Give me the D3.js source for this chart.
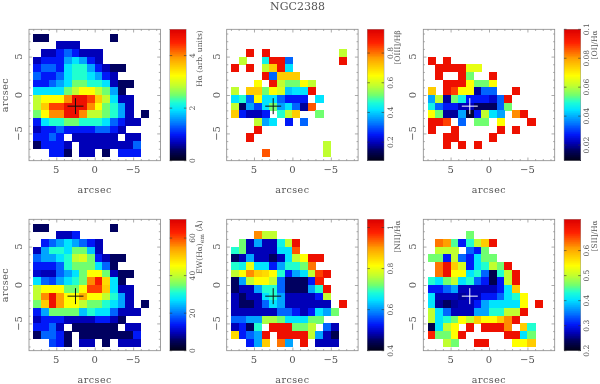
<!DOCTYPE html>
<html><head><meta charset="utf-8">
<script src="https://cdn.jsdelivr.net/npm/d3@7"></script>
<style>html,body{margin:0;background:#fff}svg{display:block;filter:blur(.35px)}text{font-family:"DejaVu Serif","Liberation Serif",serif;fill:#555}</style>
</head><body><svg id="c" width="600" height="384"></svg>
<script>
const _=null;
// Cell values are read as percent of each colour bar; rows run top to bottom, columns +8..-8 arcsec.
const halpha=[
[8,8,_,_,_,_,_,_,_,_,8,_,_,_,_,_],
[_,_,_,14,14,14,_,_,_,_,_,_,_,_,_,_],
[_,14,14,20,27,20,14,14,14,_,_,_,_,_,_,_],
[14,20,20,20,33,39,33,20,14,_,_,_,_,_,_,_],
[20,27,27,20,39,45,45,33,20,14,8,8,_,_,_,_],
[27,20,20,27,39,45,45,39,33,20,14,_,_,_,_,_],
[20,20,27,33,39,50,50,45,45,39,14,8,8,_,_,_],
[39,39,39,39,50,57,65,65,57,50,33,8,_,_,_,_],
[57,65,65,65,80,95,95,87,72,57,39,14,14,_,_,_],
[57,72,87,87,95,95,95,80,65,50,45,33,14,_,_,_],
[50,65,80,80,95,95,80,57,57,50,45,33,14,_,8,_],
[20,39,45,45,50,50,45,45,45,39,27,20,14,14,_,_],
[14,20,20,27,20,20,20,20,27,27,20,14,_,_,_,_],
[20,20,27,20,_,14,14,14,14,14,14,_,14,14,_,_],
[8,20,20,20,14,_,14,14,14,14,14,14,14,27,_,_],
[_,_,20,20,8,_,14,14,_,8,_,20,20,20,_,_]];
const o3hb=[
[_,_,_,_,_,_,_,_,_,_,_,_,_,_,_,_],
[_,_,_,_,_,_,_,_,_,_,_,_,_,_,_,_],
[_,_,95,_,95,_,_,_,_,_,_,_,_,_,57,_],
[_,57,_,_,42,95,95,27,_,_,_,_,_,_,95,_],
[95,_,95,_,57,72,95,39,_,_,_,_,_,_,_,_],
[_,_,_,_,95,27,72,72,72,_,_,_,_,_,_,_],
[_,_,_,65,_,95,57,50,50,65,57,_,_,_,_,_],
[57,_,72,72,50,65,60,36,39,39,95,_,_,_,_,_],
[39,45,27,65,39,39,27,20,20,20,_,39,_,_,_,_],
[57,8,33,24,39,50,33,39,27,12,85,_,_,_,_,_],
[72,20,14,14,20,_,45,57,72,_,_,50,_,_,_,_],
[_,_,_,57,33,39,_,20,_,27,_,_,_,_,_,_],
[_,_,_,95,_,_,_,_,_,_,_,_,_,_,_,_],
[_,_,95,_,_,_,_,_,_,_,_,_,_,_,_,_],
[_,_,_,_,_,_,_,_,_,_,_,_,57,_,_,_],
[_,_,_,_,85,_,_,_,_,_,_,_,57,_,_,_]];
const o1ha=[
[_,_,_,_,_,_,_,_,_,_,_,_,_,_,_,_],
[_,_,_,_,_,_,_,_,_,_,_,_,_,_,_,_],
[_,_,_,_,_,_,_,_,_,_,_,_,_,_,_,_],
[95,_,95,_,_,_,_,_,_,_,_,_,_,_,_,_],
[_,95,95,95,95,62,62,_,_,_,_,_,_,_,_,_],
[_,95,_,_,95,50,_,_,95,_,_,_,_,_,_,_],
[_,_,95,95,95,65,50,50,65,_,_,_,_,_,_,_],
[72,_,95,87,65,65,12,27,27,_,_,95,_,_,_,_],
[33,57,12,50,42,20,20,20,16,27,95,_,_,_,_,_],
[42,27,20,20,14,14,8,8,8,27,50,_,_,_,_,_],
[65,50,12,12,33,4,20,57,39,33,_,80,95,_,_,_],
[95,95,87,_,27,_,50,50,_,65,_,_,_,95,_,_],
[95,_,_,95,_,_,_,_,_,95,_,95,_,_,_,_],
[_,_,95,95,_,_,_,_,95,_,_,_,_,_,_,_],
[_,_,95,_,95,_,95,_,_,_,_,_,_,_,_,_],
[_,_,_,_,_,_,_,_,_,_,_,_,_,_,_,_]];
const ewha=[
[8,8,_,_,_,_,_,_,_,_,8,_,_,_,_,_],
[_,_,_,14,14,20,_,_,_,_,_,_,_,_,_,_],
[_,20,27,33,39,33,27,20,14,_,_,_,_,_,_,_],
[14,33,45,45,39,50,50,36,14,_,_,_,_,_,_,_],
[27,33,33,39,45,57,60,50,20,14,8,8,_,_,_,_],
[20,20,20,27,45,50,50,50,39,27,8,_,_,_,_,_],
[16,14,14,27,33,39,50,65,65,50,14,8,8,_,_,_],
[39,27,24,33,39,45,50,80,92,70,39,8,_,_,_,_],
[57,65,65,65,50,50,65,87,87,72,39,14,14,_,_,_],
[57,80,95,78,65,65,76,65,65,57,45,33,14,_,_,_],
[50,72,95,78,65,65,57,50,50,45,39,33,14,_,8,_],
[20,33,50,50,50,50,36,45,39,39,27,14,14,14,_,_],
[14,20,20,20,14,14,14,14,20,20,14,8,_,_,_,_],
[20,20,27,14,_,8,8,8,8,8,8,_,14,14,_,_],
[8,27,27,20,8,_,8,8,8,8,8,8,8,20,_,_],
[_,_,24,20,8,_,14,14,_,8,_,14,14,14,_,_]];
const n2ha=[
[_,_,_,_,_,_,_,_,_,_,_,_,_,_,_,_],
[_,_,_,80,57,57,_,_,_,_,_,_,_,_,_,_],
[_,50,14,33,14,14,42,57,95,_,_,_,_,_,_,_],
[45,50,14,14,14,14,39,39,85,_,_,_,_,_,_,_],
[8,14,33,14,14,8,14,39,57,65,95,95,_,_,_,_],
[45,42,62,39,39,20,33,45,45,50,82,_,_,_,_,_],
[57,65,80,72,70,65,45,20,33,39,57,87,95,_,_,_],
[8,33,57,65,65,57,27,8,8,8,20,92,_,_,_,_],
[8,14,14,33,45,45,27,8,8,8,33,45,95,_,_,_],
[14,8,14,14,39,45,33,14,14,14,14,20,57,_,_,_],
[14,8,8,14,27,39,33,14,14,14,14,14,14,_,95,_],
[14,14,14,14,14,14,27,27,20,14,20,39,33,50,_,_],
[27,27,33,33,55,55,50,39,39,39,50,50,_,_,_,_],
[14,20,8,45,_,95,95,95,50,50,57,_,27,14,_,_],
[70,20,27,33,95,_,95,95,95,95,57,33,14,6,_,_],
[_,_,20,33,72,_,82,33,_,95,_,14,14,14,_,_]];
const s2ha=[
[_,_,_,_,_,_,_,_,_,_,_,_,_,_,_,_],
[_,_,_,_,_,50,_,_,_,_,_,_,_,_,_,_],
[_,82,78,48,20,45,57,72,95,_,_,_,_,_,_,_],
[_,57,57,57,_,27,20,50,_,_,_,_,_,_,_,_],
[50,50,20,57,27,20,39,50,50,_,_,_,_,_,_,_],
[_,82,95,72,60,20,39,45,57,50,95,_,_,_,_,_],
[_,82,95,65,65,39,45,27,6,45,57,95,_,_,_,_],
[45,39,50,57,39,45,27,20,6,20,57,95,_,_,_,_],
[20,20,27,33,14,14,14,14,14,20,39,72,_,_,_,_],
[39,14,14,14,12,14,14,20,20,27,39,45,65,_,_,_],
[39,12,8,12,14,14,20,33,39,39,39,39,65,_,95,_],
[57,39,27,14,14,14,33,33,45,45,57,57,95,_,_,_],
[57,39,45,50,65,57,72,65,65,72,80,95,_,_,_,_],
[6,39,57,65,_,95,_,95,95,95,80,_,72,45,_,_],
[90,50,50,65,95,_,_,_,_,_,95,95,39,50,_,_],
[_,_,57,50,_,_,95,95,_,_,_,65,65,72,_,_]];

const colorLevels=[0,8,14,20,27,33,39,45,50,57,65,78,90,100];
const colorStops=["#000014","#000060","#0000b8","#0018f8","#0064ff","#00a4ff","#00e4ff","#20ffd0","#70ff70","#c0ff30","#ffff00","#ffa000","#ff2000","#dc0000"];
const arcsecMajor=[5,0,-5];
const arcsecMinor=[8,7,6,4,3,2,1,-1,-2,-3,-4,-6,-7,-8];
const crossX=2.5, crossY=-1.45;
const panelNames=["Hα (arb. units)","[OIII]/Hβ","[OI]/Hα","EW","[NII]/Hα","[SII]/Hα"];
const panelData=[halpha,o3hb,o1ha,ewha,n2ha,s2ha];
const barDomains=[[0,5],[0.075,0.96],[0.0092,0.1],[0,70],[0.4,1.04],[0.2,0.725]];
const barTicks=[[0,2,4],[0.2,0.4,0.6,0.8],[0.02,0.04,0.06,0.08,0.1],[0,20,40,60],[0.4,0.6,0.8,1],[0.2,0.3,0.4,0.5,0.6]];
const crossColors=["#111","#111","#fff","#111","#111","#fff"];
const leftEdges=[29,226.7,423.3];
const topEdges=[29.3,219.3];
const size=131.4;

const color=d3.scaleLinear().domain(colorLevels).range(colorStops);
const svg=d3.select("#c");
svg.append("text").attr("x",297.5).attr("y",9.5).attr("text-anchor","middle").attr("font-size",11).text("NGC2388");

panelData.forEach((grid,i)=>{
  const L=leftEdges[i%3], T=topEdges[i<3?0:1];
  const x=d3.scaleLinear().domain([8.55,-8.55]).range([L,L+size]);
  const y=d3.scaleLinear().domain([8.55,-8.55]).range([T,T+size]);
  const g=svg.append("g");
  const cells=[];
  grid.forEach((row,r)=>row.forEach((v,c)=>{if(v!==null)cells.push({r,c,v});}));
  g.selectAll("rect.cell").data(cells).join("rect")
    .attr("shape-rendering","crispEdges")
    .attr("x",d=>x(8-d.c)).attr("y",d=>y(8-d.r))
    .attr("width",x(0)-x(1)+.4).attr("height",y(0)-y(1)+.4)
    .attr("fill",d=>color(d.v));
  const axisColor="#888";
  g.append("rect").attr("x",L).attr("y",T).attr("width",size).attr("height",size).attr("fill","none").attr("stroke",axisColor).attr("stroke-width",.8);
  [[d3.axisBottom,x,T+size],[d3.axisTop,x,T],[d3.axisLeft,y,L],[d3.axisRight,y,L+size]].forEach(([ax,sc,p],k)=>{
    const horiz=k<2;
    const mk=(vals,len)=>{
      const a=g.append("g").attr("transform",horiz?`translate(0,${p})`:`translate(${p},0)`);
      a.call(ax(sc).tickValues(vals).tickSize(-len).tickFormat(""));
      a.select(".domain").remove();
      a.selectAll("line").attr("stroke",axisColor).attr("stroke-width",.7);
    };
    mk(arcsecMajor,3.2); mk(arcsecMinor,1.6);
  });
  const tickY=T+size+12.5;
  arcsecMajor.forEach(v=>{
    g.append("text").attr("x",x(v)).attr("y",tickY).attr("text-anchor","middle").attr("font-size",10).text(v===0?"0":(v<0?"−"+(-v):v));
    g.append("text").attr("transform",`translate(${L-7},${y(v)}) rotate(-90)`).attr("text-anchor","middle").attr("font-size",10).text(v===0?"0":(v<0?"−"+(-v):v));
  });
  g.append("text").attr("x",L+size/2).attr("y",T+size+32).attr("text-anchor","middle").attr("font-size",9.5).attr("letter-spacing",.5).text("arcsec");
  if(i%3===0){
    g.append("text").attr("transform",`translate(8,${T+size/2}) rotate(-90)`).attr("text-anchor","middle").attr("font-size",9.5).attr("letter-spacing",.5).text("arcsec");
  }
  const cross=[[x(crossX)-8,y(crossY),x(crossX)+8,y(crossY)],[x(crossX),y(crossY)-8,x(crossX),y(crossY)+8]];
  g.selectAll("line.cross").data(cross).join("line").attr("x1",d=>d[0]).attr("y1",d=>d[1]).attr("x2",d=>d[2]).attr("y2",d=>d[3])
    .attr("stroke",crossColors[i]).attr("stroke-width",1);

  // colour bar
  const bx=L+size+9.3, bw=16.7;
  const bar=d3.scaleLinear().domain(barDomains[i]).range([T+size,T]);
  const lv=d3.range(0,100,.5);
  const pct=d3.scaleLinear().domain([0,100]).range([T+size,T]);
  g.selectAll("rect.bar").data(lv).join("rect").attr("shape-rendering","crispEdges").attr("x",bx).attr("width",bw).attr("y",d=>pct(d+.5)).attr("height",size/200+.6).attr("fill",d=>color(d));
  g.append("rect").attr("x",bx).attr("y",T).attr("width",bw).attr("height",size).attr("fill","none").attr("stroke","#999").attr("stroke-width",.5);
  barTicks[i].forEach(v=>{
    const yy=bar(v);
    g.append("line").attr("x1",bx).attr("x2",bx+2.5).attr("y1",yy).attr("y2",yy).attr("stroke","#333").attr("stroke-width",.6);
    g.append("line").attr("x1",bx+bw-2.5).attr("x2",bx+bw).attr("y1",yy).attr("y2",yy).attr("stroke","#333").attr("stroke-width",.6);
    g.append("text").attr("transform",`translate(${bx+bw+8.5},${yy}) rotate(-90)`).attr("text-anchor","middle").attr("font-size",7.5).text(v);
  });
  const lab=g.append("text").attr("transform",`translate(${bx+bw+16},${T+1}) rotate(-90)`).attr("text-anchor","end").attr("font-size",7.5);
  if(i===3){
    lab.append("tspan").text("EW(Hα)");
    lab.append("tspan").attr("dy",2).attr("font-size",6).text("em");
    lab.append("tspan").attr("dy",-2).text(" (Å)");
  } else lab.text(panelNames[i]);
});
</script></body></html>
